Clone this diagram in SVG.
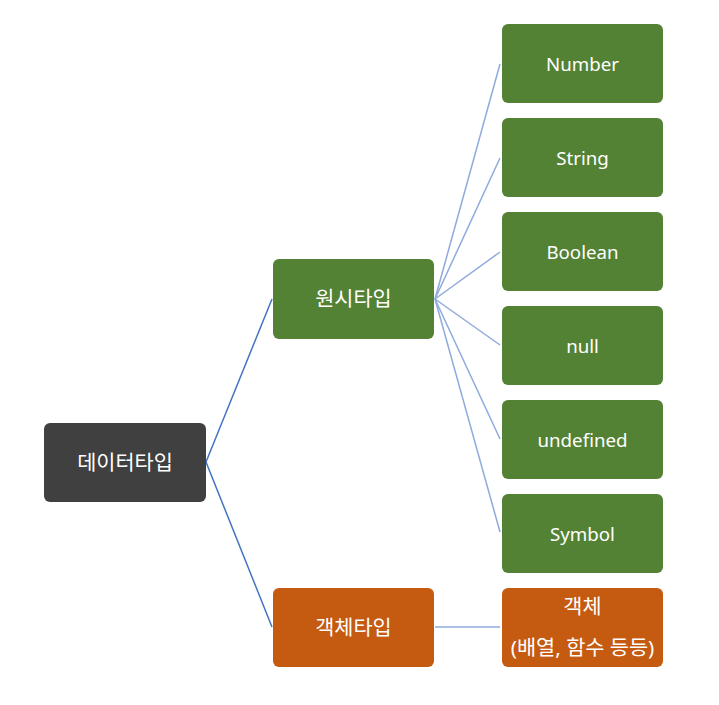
<svg xmlns="http://www.w3.org/2000/svg" width="719" height="705" viewBox="0 0 719 705">
<style>
.box{stroke:none}
.g{fill:#548235}
.o{fill:#C55A11}
.d{fill:#404040}
text{font-family:"Noto Sans","Noto Sans CJK KR",sans-serif;font-size:18.7px;fill:#FFFFFF;text-anchor:middle}
text.k{font-size:20.8px}
.c1{stroke:#4472C4;stroke-width:1.5;fill:none}
.c2{stroke:#8FAADC;stroke-width:1.5;fill:none}
</style>
<rect width="719" height="705" fill="#FFFFFF"/>
<g id="connectors">
<line class="c1" x1="206" y1="462" x2="272" y2="299"/>
<line class="c1" x1="206" y1="462" x2="272" y2="627"/>
<line class="c2" x1="435" y1="299" x2="500" y2="64"/>
<line class="c2" x1="435" y1="299" x2="500" y2="158"/>
<line class="c2" x1="435" y1="299" x2="500" y2="252"/>
<line class="c2" x1="435" y1="299" x2="500" y2="345"/>
<line class="c2" x1="435" y1="299" x2="500" y2="439"/>
<line class="c2" x1="435" y1="299" x2="500" y2="532"/>
<line class="c2" x1="435" y1="627" x2="500" y2="627"/>
</g>
<g id="root"><rect class="box d" x="44" y="423" width="162" height="79" rx="6"/><text class="k" x="125" y="470">데이터타입</text></g>
<g id="primitive"><rect class="box g" x="273" y="259" width="161" height="80" rx="6"/><text class="k" x="353.5" y="306">원시타입</text></g>
<g id="objecttype"><rect class="box o" x="273" y="588" width="161" height="79" rx="6"/><text class="k" x="353.5" y="635">객체타입</text></g>
<g id="number"><rect class="box g" x="502" y="24" width="161" height="79" rx="6"/><text x="582.5" y="71">Number</text></g>
<g id="string"><rect class="box g" x="502" y="118" width="161" height="79" rx="6"/><text x="582.5" y="165">String</text></g>
<g id="boolean"><rect class="box g" x="502" y="212" width="161" height="79" rx="6"/><text x="582.5" y="259">Boolean</text></g>
<g id="null"><rect class="box g" x="502" y="306" width="161" height="79" rx="6"/><text x="582.5" y="353">null</text></g>
<g id="undefined"><rect class="box g" x="502" y="400" width="161" height="79" rx="6"/><text x="582.5" y="447">undefined</text></g>
<g id="symbol"><rect class="box g" x="502" y="494" width="161" height="79" rx="6"/><text x="582.5" y="541">Symbol</text></g>
<g id="object"><rect class="box o" x="502" y="588" width="161" height="79" rx="6"/><text class="k" x="582.5" y="614">객체</text><text class="k" x="582.5" y="655">(배열, 함수 등등)</text></g>
</svg>
